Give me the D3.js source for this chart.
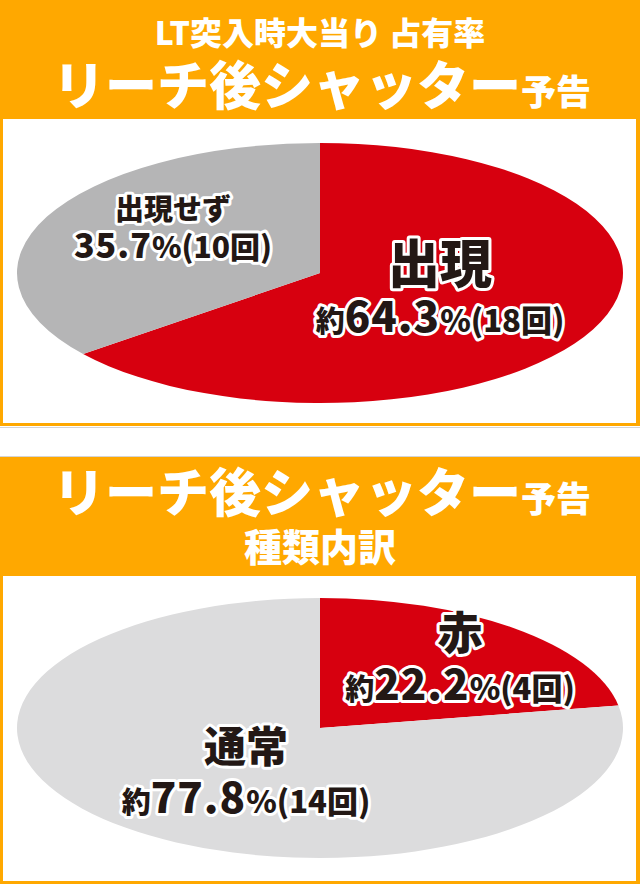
<!DOCTYPE html>
<html>
<head>
<meta charset="utf-8">
<script src="https://cdn.jsdelivr.net/npm/d3@7"></script>
<style>
  html, body { margin: 0; padding: 0; background: #fff; }
  svg { display: block; font-family: "Noto Sans CJK JP", "Noto Sans", sans-serif; }
  .hd { fill: #fff; font-weight: 900; text-anchor: middle; }
  .lbl { fill: #231815; font-weight: 900; text-anchor: middle;
         stroke: #fff; stroke-width: 6px; stroke-linejoin: round; paint-order: stroke; }
</style>
</head>
<body>
<div id="chart"></div>
<script>
// chart 1: LT突入時大当り占有率
var occTitle = "LT突入時大当り占有率";
var occNames = ["出現", "出現せず"];
var occCounts = [18, 10];
var occPrefix = ["約", ""];

// chart 2: 種類内訳
var typeNames = ["赤", "通常"];
var typeCounts = [4, 14];
var typePrefix = ["約", "約"];

var mainTitle = "リーチ後シャッター";
var titleTail = "予告";
var subTitle = "種類内訳";

var red = "#d7000f",
	orange = "#ffa800";

var W = 640, H = 884;
var svg = d3.select("#chart").append("svg")
	.attr("width", W)
	.attr("height", H);

var fmt = d3.format(".1f");

// panel backgrounds
function panel(y0, y1, headBottom) {
	svg.append("rect").attr("x", 0).attr("y", y0).attr("width", W).attr("height", y1 - y0).attr("fill", orange);
	svg.append("rect").attr("x", 3).attr("y", headBottom).attr("width", W - 7).attr("height", y1 - 3 - headBottom).attr("fill", "#fff");
}
panel(0, 426, 119);
panel(457, 884, 576);
svg.append("line").attr("x1", 0).attr("x2", W).attr("y1", 427.5).attr("y2", 427.5).attr("stroke", "#d4d4d4");
svg.append("line").attr("x1", 0).attr("x2", W).attr("y1", 456.5).attr("y2", 456.5).attr("stroke", "#d4d4d4");

// headers
svg.append("text").attr("class", "hd").attr("x", 320).attr("y", 45)
	.style("font-size", "32px").text(occTitle.replace("り占", "り 占"));

function bigTitle(y) {
	var t = svg.append("text").attr("class", "hd").attr("x", 322).attr("y", y);
	t.append("tspan").style("font-size", "52px").text(mainTitle);
	t.append("tspan").style("font-size", "35px").text(titleTail);
}
bigTitle(105);
bigTitle(512);
svg.append("text").attr("class", "hd").attr("x", 320).attr("y", 561)
	.style("font-size", "38px").text(subTitle);

// pies drawn as circles squashed into ellipses
var ry = 130, rx = 303;
var pie = d3.pie().sort(null);
var arc = d3.arc().innerRadius(0).outerRadius(ry);

function drawPie(cy, counts, colors) {
	var g = svg.append("g")
		.attr("transform", "translate(320," + cy + ") scale(" + (rx / ry) + ",1)");
	g.selectAll("path").data(pie(counts)).enter().append("path")
		.attr("d", arc)
		.attr("fill", function(d, i) { return colors[i]; });
}
drawPie(273, occCounts, [red, "#b5b5b6"]);
drawPie(728, typeCounts, [red, "#dcdcdd"]);

// labels: name line + value line
function label(x, yName, yVal, name, nameSize, prefix, count, total, numSize, smallSize) {
	svg.append("text").attr("class", "lbl").attr("x", x).attr("y", yName)
		.style("font-size", nameSize + "px").text(name);
	var t = svg.append("text").attr("class", "lbl").attr("x", x).attr("y", yVal);
	if (prefix) t.append("tspan").style("font-size", (smallSize - 2) + "px").text(prefix);
	t.append("tspan").style("font-size", numSize + "px").style("letter-spacing", "1px")
		.text(fmt(count / total * 100));
	t.append("tspan").style("font-size", smallSize + "px").text("%(" + count + "回)");
}

var occTotal = d3.sum(occCounts),
	typeTotal = d3.sum(typeCounts);

label(440, 283, 332, occNames[0], 52, occPrefix[0], occCounts[0], occTotal, 42, 31);
label(173, 220, 258, occNames[1], 29, occPrefix[1], occCounts[1], occTotal, 34, 30);
label(460, 650, 700, typeNames[0], 45, typePrefix[0], typeCounts[0], typeTotal, 42, 31);
label(246, 762, 813, typeNames[1], 42, typePrefix[1], typeCounts[1], typeTotal, 42, 31);
</script>
</body>
</html>
